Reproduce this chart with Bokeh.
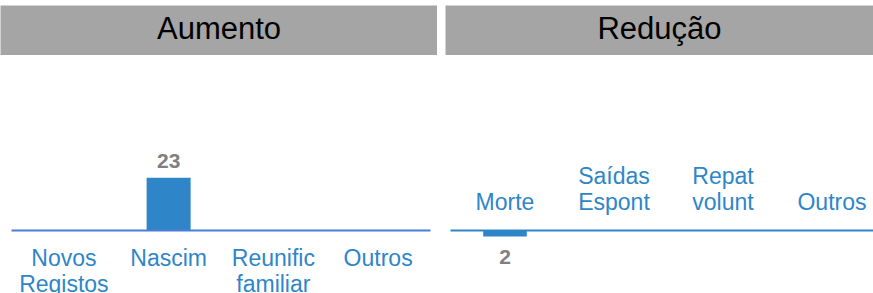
from bokeh.plotting import figure
from bokeh.layouts import column, row
from bokeh.models import Range1d, FixedTicker, ColumnDataSource, Spacer
from bokeh.core.properties import value
from bokeh.embed import file_html
from bokeh.resources import INLINE

# ---- data ----
titles = ["Aumento", "Redução"]
cats_up = ["Novos\nRegistos", "Nascim", "Reunific\nfamiliar", "Outros"]
vals_up = [0, 23, 0, 0]
cats_down = ["Morte", "Saídas\nEspont", "Repat\nvolunt", "Outros"]
vals_down = [-2, 0, 0, 0]

FONT = value("Liberation Sans")
BLUE = "#2E86C8"
GRAY_HDR = "#A5A5A5"
GRAY_TXT = "#7F7F7F"


def header(title, width):
    h = figure(width=width, height=50, x_range=Range1d(0, 1), y_range=Range1d(0, 1),
               x_axis_location=None, y_axis_location=None, toolbar_location=None,
               output_backend="svg", min_border=0)
    h.background_fill_color = GRAY_HDR
    h.border_fill_color = GRAY_HDR
    h.outline_line_color = None
    h.grid.visible = False
    h.text(x=[0.5], y=[0.54], text=[title], text_font=FONT, text_font_size="31px",
           text_color="black", text_align="center", text_baseline="middle")
    return h


def panel(cats, vals, width, x_range, y_range, axis_loc, axis_color, bar_w, label_pos,
          standoff):
    p = figure(width=width, height=238, x_range=x_range, y_range=y_range,
               x_axis_location=axis_loc, y_axis_location=None, toolbar_location=None,
               output_backend="svg", min_border=0)
    p.outline_line_color = None
    p.grid.visible = False
    p.background_fill_color = None
    p.border_fill_color = None
    xs = [i + 0.5 for i in range(len(cats))]
    p.vbar(x=xs, top=vals, bottom=0, width=bar_w, fill_color=BLUE, line_color=None)
    ax = p.xaxis[0]
    ax.fixed_location = 0
    ax.bounds = (0, x_range.end if x_range.end < len(cats) else len(cats))
    ax.ticker = FixedTicker(ticks=xs)
    ax.major_label_overrides = {x: c for x, c in zip(xs, cats)}
    ax.axis_line_color = axis_color
    ax.axis_line_width = 2
    ax.major_tick_line_color = None
    ax.minor_tick_line_color = None
    ax.major_label_text_font = "Liberation Sans"
    ax.major_label_text_font_size = "23px"
    ax.major_label_text_line_height = 1.0
    ax.major_label_text_color = BLUE
    ax.major_label_standoff = standoff
    # value labels for non-zero bars
    lx = [x for x, v in zip(xs, vals) if v != 0]
    lv = [v for v in vals if v != 0]
    src = ColumnDataSource(dict(x=lx, y=lv, t=[str(abs(v)) for v in lv]))
    if label_pos == "above":
        p.text(x="x", y="y", text="t", source=src, text_font=FONT, text_font_size="21px",
               text_font_style="bold", text_color=GRAY_TXT, text_align="center",
               text_baseline="alphabetic", y_offset=-17)
    else:
        p.text(x="x", y="y", text="t", source=src, text_font=FONT, text_font_size="21px",
               text_font_style="bold", text_color=GRAY_TXT, text_align="center",
               text_baseline="top", y_offset=13)
    return p


h1 = header(titles[0], 437)
h2 = header(titles[1], 428)

# left: 104.75 px per category, zero line 175 px below frame top, 2.29 px per unit
p1 = panel(cats_up, vals_up, 437,
           Range1d(-11 / 104.75, 426 / 104.75),
           Range1d(-63 / 2.29, 175 / 2.29),
           "below", "#4A7FD6", 0.42, "above", 8)
# right: 109 px per category, 3 px per unit
p2 = panel(cats_down, vals_down, 428,
           Range1d(-5 / 109, 423 / 109),
           Range1d(-63 / 3, 175 / 3),
           "above", BLUE, 0.40, "below", 10)

layout = column(Spacer(height=5),
                row(h1, Spacer(width=8), h2),
                row(p1, Spacer(width=8), p2))

open("out.html", "w").write(file_html(layout, INLINE))
